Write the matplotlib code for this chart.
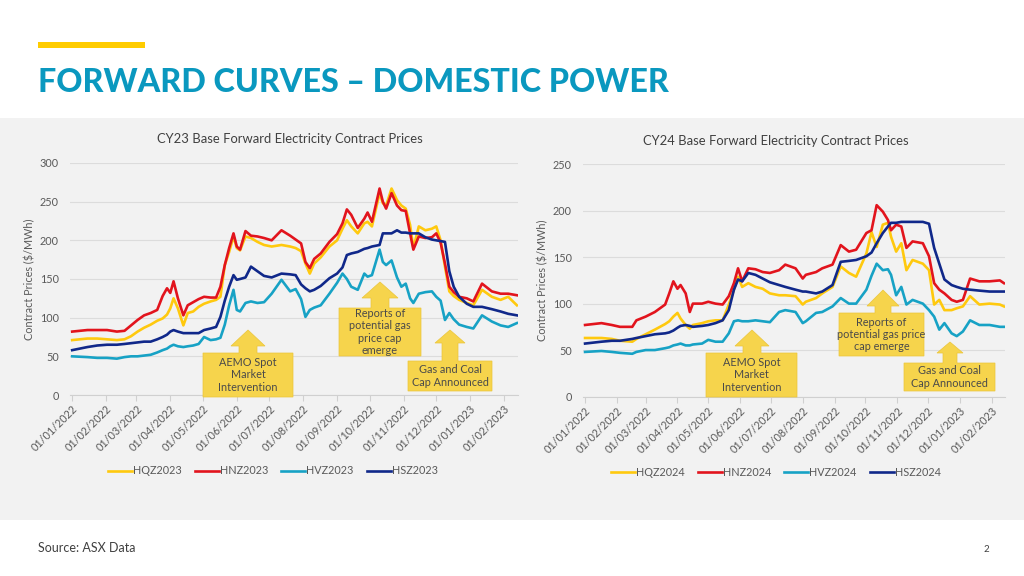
import pandas as pd
import matplotlib
matplotlib.use('Agg')
import matplotlib.pyplot as plt
from matplotlib.patches import Polygon, Rectangle

start = pd.Timestamp('2022-01-01')

# CY23 contracts, days after 01/01/2022
days23 = [0, 14, 23, 32, 41, 48, 54, 60, 66, 72, 78, 83, 87, 90, 93, 97, 102, 106, 111, 116,
          121, 127, 132, 136, 140, 144, 148, 151, 154, 159, 164, 170, 176, 183, 192, 200, 205, 210, 214, 218,
          222, 228, 236, 243, 248, 252, 256, 262, 268, 271, 275, 282, 285, 288, 293, 298, 302, 306, 310, 313,
          318, 324, 330, 334, 338, 342, 346, 350, 355, 362, 368, 376, 385, 393, 400, 408]
hqz2023 = [71, 73, 73, 72, 71, 72, 76, 82, 87, 91, 96, 99, 104, 112, 125, 112, 90, 106, 108, 114,
           118, 121, 123, 127, 168, 185, 205, 190, 187, 205, 203, 198, 194, 192, 194, 192, 190, 186, 170, 157,
           170, 178, 192, 200, 215, 226, 218, 209, 222, 224, 218, 261, 248, 245, 267, 252, 245, 241, 220, 190,
           218, 213, 215, 218, 200, 166, 134, 128, 123, 119, 116, 136, 127, 123, 127, 116]
hnz2023 = [82, 84, 84, 84, 82, 83, 90, 97, 103, 106, 110, 128, 138, 132, 147, 125, 103, 116, 120, 124,
           127, 126, 126, 140, 168, 190, 209, 192, 188, 212, 206, 205, 203, 200, 213, 206, 201, 196, 172, 164,
           176, 183, 198, 208, 222, 240, 233, 216, 228, 236, 224, 267, 250, 241, 261, 245, 239, 238, 209, 188,
           205, 203, 204, 209, 197, 170, 140, 133, 127, 125, 121, 144, 134, 131, 131, 129]
hvz2023 = [50, 49, 48, 48, 47, 49, 50, 50, 51, 52, 55, 58, 60, 63, 65, 63, 62, 63, 64, 66,
           75, 71, 72, 74, 91, 116, 136, 110, 108, 119, 121, 119, 120, 131, 149, 134, 137, 124, 101, 110,
           113, 116, 131, 145, 157, 150, 140, 136, 157, 153, 155, 188, 172, 168, 174, 152, 140, 144, 125, 119,
           131, 133, 134, 127, 122, 97, 106, 98, 91, 88, 86, 103, 95, 90, 88, 93]
hsz2023 = [58, 62, 64, 65, 65, 66, 67, 68, 69, 69, 72, 75, 78, 82, 84, 82, 80, 80, 80, 80,
           84, 86, 88, 101, 122, 140, 155, 149, 150, 152, 166, 160, 154, 152, 157, 156, 155, 143, 138, 134,
           136, 141, 151, 157, 165, 181, 183, 185, 189, 190, 192, 194, 209, 209, 209, 213, 210, 210, 209, 209,
           209, 204, 201, 200, 199, 198, 160, 140, 127, 118, 114, 114, 111, 108, 105, 103]

# CY24 contracts
days24 = [0, 16, 26, 34, 46, 50, 59, 68, 78, 82, 86, 90, 93, 98, 102, 105, 114, 120, 127, 134,
          140, 145, 149, 153, 159, 166, 173, 180, 189, 195, 205, 212, 215, 225, 231, 241, 249, 257, 264, 274,
          279, 284, 290, 295, 298, 303, 308, 313, 319, 329, 335, 340, 345, 350, 357, 362, 368, 375, 384, 394,
          404, 408]
hqz2024 = [63, 63, 62, 60, 59, 62, 67, 72, 78, 81, 86, 90, 84, 77, 73, 77, 79, 81, 82, 82,
           99, 115, 129, 118, 122, 118, 116, 111, 109, 109, 108, 99, 102, 106, 111, 118, 140, 133, 129, 154,
           177, 161, 185, 187, 172, 156, 165, 136, 147, 143, 136, 99, 104, 93, 93, 95, 97, 108, 99, 100,
           99, 97]
hnz2024 = [77, 79, 77, 75, 75, 82, 86, 91, 99, 111, 124, 116, 120, 111, 91, 100, 100, 102, 100, 99,
           108, 122, 138, 124, 138, 137, 134, 133, 136, 142, 138, 127, 131, 134, 138, 142, 163, 156, 158, 176,
           179, 206, 199, 190, 179, 185, 183, 160, 167, 165, 151, 122, 115, 111, 104, 102, 104, 127, 124, 124,
           125, 122]
hvz2024 = [48, 49, 48, 47, 46, 48, 50, 50, 52, 53, 55, 56, 57, 55, 55, 56, 57, 61, 59, 59,
           68, 81, 82, 81, 81, 82, 81, 80, 91, 93, 91, 79, 81, 90, 91, 97, 106, 100, 100, 115,
           130, 143, 136, 137, 131, 109, 118, 99, 104, 100, 93, 86, 72, 79, 68, 65, 70, 82, 77, 77,
           75, 75]
hsz2024 = [57, 59, 60, 60, 62, 63, 65, 67, 68, 69, 71, 74, 76, 77, 76, 75, 76, 77, 79, 82,
           93, 115, 126, 124, 133, 131, 127, 123, 120, 118, 115, 113, 113, 111, 113, 120, 145, 146, 147, 151,
           155, 165, 176, 183, 187, 187, 188, 188, 188, 188, 186, 160, 143, 126, 120, 118, 116, 115, 114, 113,
           113, 113]

colours = ['#FFC90E', '#E2141D', '#17A2C5', '#10288A']
names23 = ['HQZ2023', 'HNZ2023', 'HVZ2023', 'HSZ2023']
names24 = ['HQZ2024', 'HNZ2024', 'HVZ2024', 'HSZ2024']
month_ticks = pd.date_range('2022-01-01', '2023-02-01', freq='MS')

plt.rcParams['font.family'] = ['Lato', 'DejaVu Sans']
grey_text = '#595959'
W, H = 1024, 576


def px(x, y):
    # pixel position (from top left) -> figure fraction
    return x / W, 1 - y / H


def draw_chart(fig, rect, days, series, names, ymax, title, title_xy, legend_xy):
    ax = fig.add_axes(rect)
    ax.set_facecolor('none')
    dates = start + pd.to_timedelta(days, unit='D')
    for vals, name, c in zip(series, names, colours):
        ax.plot(dates, vals, color=c, lw=1.9, label=name)
    ax.set_ylim(0, ymax)
    ax.set_yticks(range(0, ymax + 1, 50))
    ax.set_xlim(start - pd.Timedelta(days=2), start + pd.Timedelta(days=409))
    ax.set_xticks(month_ticks)
    ax.set_xticklabels([d.strftime('%d/%m/%Y') for d in month_ticks], rotation=45,
                       ha='right', rotation_mode='anchor')
    ax.grid(axis='y', color='#dcdcdc', lw=0.8)
    ax.set_axisbelow(True)
    for s in ['top', 'right', 'left']:
        ax.spines[s].set_visible(False)
    ax.spines['bottom'].set_color('#d0d0d0')
    ax.tick_params(axis='y', length=0, labelsize=7.8, labelcolor=grey_text, pad=8)
    ax.tick_params(axis='x', length=4, color='#d0d0d0', labelsize=7.8, labelcolor=grey_text, pad=2)
    ax.set_ylabel('Contract Prices ($/MWh)', fontsize=7.8, color=grey_text, labelpad=3)
    fig.text(*px(*title_xy), title, ha='center', va='center', fontsize=9.4, color='#404040')
    h, l = ax.get_legend_handles_labels()
    fig.legend(h, l, loc='center', bbox_to_anchor=px(*legend_xy), ncol=4, frameon=False,
               fontsize=7.8, labelcolor=grey_text, handlelength=2.2, handletextpad=0.1,
               columnspacing=1.2)
    return ax


def callout(fig, cx, tip, hw, base, sw, box, text):
    l, r, t, b = box
    pts = [(cx, tip), (cx + hw, base), (cx + sw, base), (cx + sw, t), (r, t), (r, b),
           (l, b), (l, t), (cx - sw, t), (cx - sw, base), (cx - hw, base)]
    fig.add_artist(Polygon([px(*p) for p in pts], closed=True, transform=fig.transFigure,
                           facecolor='#F6D44C', edgecolor='#EBC53A', lw=0.5, zorder=5))
    fig.text(*px((l + r) / 2, (t + b) / 2), text, ha='center', va='center', fontsize=7.8,
             color='#4a4a4a', linespacing=1.15, zorder=6)


fig = plt.figure(figsize=(10.24, 5.76), dpi=100)
fig.add_artist(Rectangle(px(0, 520), 1, (520 - 118) / H, transform=fig.transFigure,
                         facecolor='#f2f2f2', edgecolor='none', zorder=-1))
fig.add_artist(Rectangle(px(38, 48), 107 / W, 6 / H, transform=fig.transFigure,
                         facecolor='#FFCC00', edgecolor='none'))
fig.text(*px(38, 82), 'FORWARD CURVES – DOMESTIC POWER', fontsize=23.2, fontweight='black',
         color='#0A98BF', va='center')
fig.text(*px(38, 548), 'Source: ASX Data', fontsize=9, color='#404040', va='center')
fig.text(*px(983, 549), '2', fontsize=7, color='#404040', va='center')

draw_chart(fig, [70 / W, 1 - 395 / H, 448 / W, 232 / H], days23,
           [hqz2023, hnz2023, hvz2023, hsz2023], names23, 300,
           'CY23 Base Forward Electricity Contract Prices', (290, 139), (273, 471))
draw_chart(fig, [583 / W, 1 - 396.5 / H, 422 / W, 232.2 / H], days24,
           [hqz2024, hnz2024, hvz2024, hsz2024], names24, 250,
           'CY24 Base Forward Electricity Contract Prices', (776, 141), (776, 472))

callout(fig, 248, 330, 17, 346, 9, (203, 293, 353, 397), 'AEMO Spot\nMarket\nIntervention')
callout(fig, 380, 282, 18, 298, 9, (339, 421, 308, 356), 'Reports of\npotential gas\nprice cap\nemerge')
callout(fig, 450, 330, 15, 343, 8, (408, 492, 361, 391), 'Gas and Coal\nCap Announced')
callout(fig, 752, 330, 17, 346, 9, (706, 797, 353, 397), 'AEMO Spot\nMarket\nIntervention')
callout(fig, 883, 290, 16, 306, 8, (839, 924, 313, 356), 'Reports of\npotential gas price\ncap emerge')
callout(fig, 950, 342, 13, 353, 7, (904, 995, 363, 391), 'Gas and Coal\nCap Announced')

fig.savefig('out.png', dpi=100)
